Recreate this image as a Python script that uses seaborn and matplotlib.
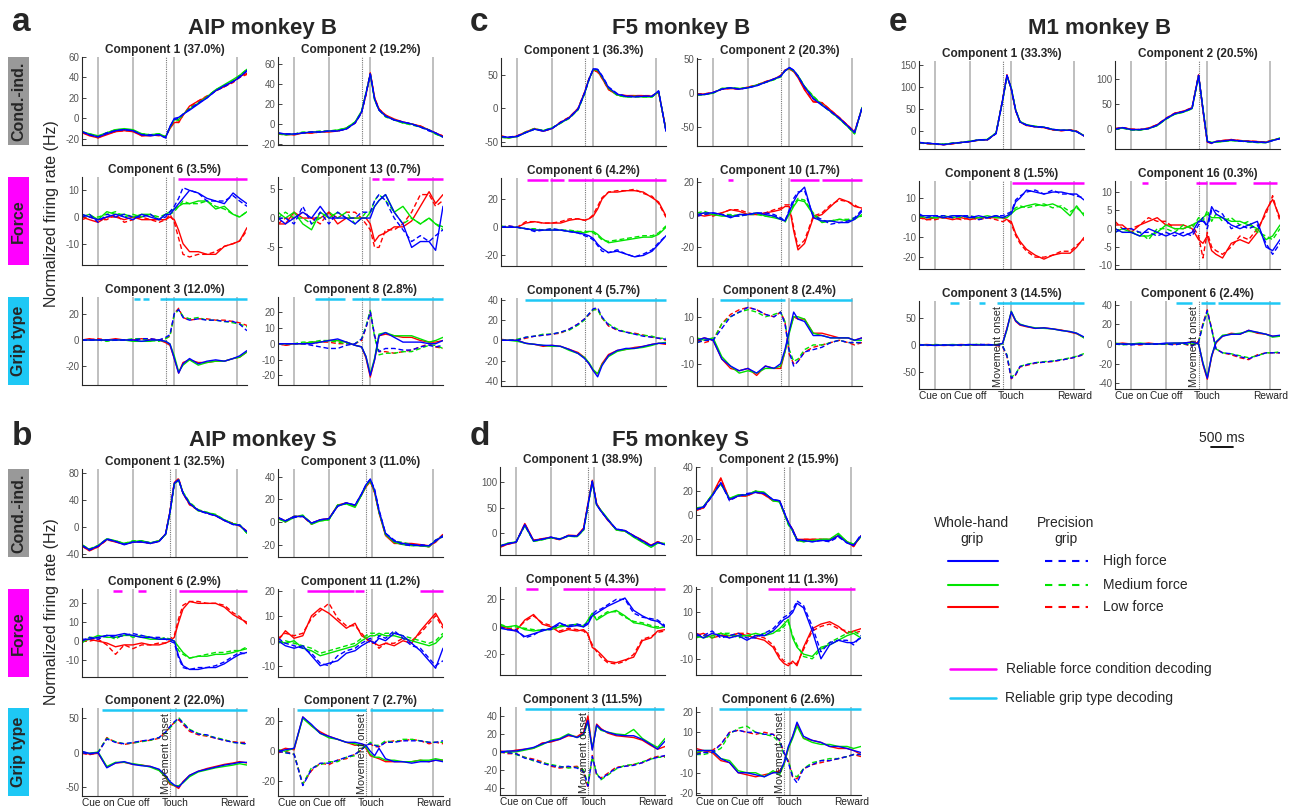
import numpy as np
import pandas as pd
import matplotlib
matplotlib.use("Agg")
import matplotlib.pyplot as plt
from matplotlib.patches import Rectangle
import seaborn as sns

sns.set_theme(context="paper", style="ticks")
plt.rcParams['font.family'] = ['Liberation Sans', 'DejaVu Sans']
plt.rcParams['axes.unicode_minus'] = False

# ---------------------------------------------------------
# Time grid (ms, relative to cue on) and task events
# ---------------------------------------------------------
T = [-370, -200, 0, 200, 400, 600, 800, 1000, 1200, 1400, 1550, 1650, 1750,
     1850, 1950, 2100, 2300, 2500, 2700, 2900, 3100, 3250, 3420]
EVENTS_B = [0, 800, 1550, 1750, 3200]   # cue on, cue off, movement onset, touch, reward
EVENTS_S = [0, 800, 1650, 1780, 3200]
EVENT_LABELS = ['Cue on', 'Cue off', 'Touch', 'Reward']

# rows: whole-hand high/medium/low, precision high/medium/low
FORCES = ['High', 'Medium', 'Low']
GRIPS = ['Whole-hand', 'Precision']

# ---------------- AIP monkey B ----------------
aip_b_comp1 = [
    [-13, -16, -18, -15, -12, -11, -12, -16, -17, -16, -19, -8, 0, 1, 4, 8, 14, 20, 27, 32, 36, 40, 47],
    [-13, -15, -17, -14, -11, -10, -11, -15, -16, -15, -18, -9, -1, -1, 4, 9, 15, 21, 28, 33, 38, 42, 48],
    [-14, -17, -19, -16, -13, -12, -13, -17, -17, -16, -18, -10, -4, -4, 3, 12, 17, 21, 27, 31, 36, 41, 44],
    [-13, -16, -18, -14, -12, -11, -12, -16, -16, -16, -19, -8, -1, 0, 4, 9, 15, 20, 27, 31, 36, 41, 46],
    [-13, -15, -18, -14, -11, -11, -12, -15, -16, -15, -18, -9, -1, -2, 4, 10, 15, 21, 28, 32, 37, 42, 48],
    [-14, -16, -19, -15, -13, -12, -12, -17, -16, -17, -18, -9, -3, -4, 3, 11, 17, 22, 27, 31, 35, 40, 43],
]
aip_b_comp2 = [
    [-9, -10, -10, -9, -8, -8, -7, -7, -5, 1, 12, 30, 50, 25, 14, 8, 4, 2, 0, -3, -6, -9, -13],
    [-9, -11, -10, -9, -8, -8, -7, -6, -4, 2, 13, 31, 49, 24, 14, 8, 4, 1, 0, -3, -6, -10, -13],
    [-10, -10, -11, -9, -9, -8, -8, -7, -4, 1, 12, 29, 51, 26, 15, 9, 5, 2, 0, -2, -6, -9, -12],
    [-9, -10, -10, -9, -8, -8, -7, -7, -5, 1, 11, 30, 50, 25, 14, 8, 4, 2, 0, -3, -7, -9, -13],
    [-10, -10, -10, -8, -8, -7, -7, -6, -4, 2, 12, 31, 50, 24, 14, 7, 4, 1, -1, -3, -6, -10, -13],
    [-10, -11, -10, -9, -9, -8, -7, -7, -5, 1, 12, 29, 51, 26, 15, 9, 4, 2, 0, -2, -6, -9, -12],
]
aip_b_comp6 = [
    [1, 0, -1, 0, 1, 0, -1, 1, 0, -1, 1, 1, 3, 5, 7, 10, 9, 7, 6, 5, 9, 7, 5],
    [0, 1, -1, 2, 1, 1, 0, 1, 1, -1, 1, 2, 3, 4, 5, 5, 6, 6, 3, 4, 1, 0, 2],
    [0, -1, -2, 0, 0, -1, 0, -1, -1, -1, -1, 0, -1, -5, -10, -13, -13, -14, -14, -11, -10, -9, -4],
    [0, 1, -2, 1, 0, 1, 0, 0, 1, -1, 0, 2, 4, 7, 11, 10, 9, 6, 6, 6, 8, 6, 4],
    [1, 0, 0, 1, 2, 0, 1, 0, 1, 0, 1, 1, 2, 4, 6, 5, 5, 6, 4, 3, 1, 0, 2],
    [-1, 0, -1, -1, 1, -2, -1, 0, -1, -2, -1, 1, -2, -8, -14, -15, -14, -14, -13, -11, -10, -9, -5],
]
aip_b_comp13 = [
    [0, -1, 0, 1, 0, 2, 0, 0, 0, -1, 0, 0, 0, 2, 3, 4, 1, -1, -5, -4, -4, -5.5, 2],
    [1, 0, 1, -1, -2, 1, 0, 1, 0, 0, 0, 0, 1, 2, 3, 4, 1, 2, 0, -1, 0, -1, -1.5],
    [-1, -1, 1, 0, 0, 0, 1, -1, 0, 0, 0, 0, -1, -4, -3, -2.5, -1.5, -1.5, -0.5, 2, 4.5, 2.5, 4],
    [0, 0, -1, 2, -1, 1, -1, 1, 0, 0, 1, 1, 1, 3, 4, 3, 0, -2, -4, -3, -4, -3, -2],
    [0, 1, 0, 0, -1, 0, 1, 0, 1, -1, 0, 1, 1, 3, 4, 3, 1, -1, 0, -1, 0, -1, -2],
    [-1, 0, 0, 1, 0, -1, 1, 0, 1, 1, 0, -1, -2, -5, -5, -2, -2, -1, 1, 4, 4, 2, 3],
]
aip_b_comp3 = [
    [0, 0, 0, 0, 0, 0, 0, -1, 0, 0, -1, -3, -14, -25, -18, -14, -18, -16, -15, -16, -14, -12, -8],
    [0, 0, 0, 0, 0, 0, -1, -1, -1, 0, -1, -3, -12, -24, -19, -15, -19, -17, -16, -16, -14, -13, -9],
    [0, 1, 0, 0, 1, 0, 0, 1, 0, 0, -2, -4, -14, -25, -17, -15, -17, -17, -16, -16, -14, -13, -9],
    [0, 0, 0, 0, 0, 0, 0, 1, 1, 0, 2, 4, 20, 23, 17, 15, 16, 15, 15, 14, 14, 12, 7],
    [0, 0, 0, -1, 0, 0, 1, 1, 0, -1, 1, 3, 19, 23, 18, 16, 17, 15, 15, 14, 13, 12, 10],
    [0, 0, 1, 0, 0, 0, 0, 1, 1, 0, 1, 3, 20, 24, 17, 15, 16, 16, 15, 15, 14, 13, 11],
]
aip_b_comp8 = [
    [0, 0, 0, 0, 0, 1, 2, 3, 1, -1, -2, -8, -20, -10, 5, 7, 4, 1, 1, 1, 0, 0, 2],
    [0, 0, 0, 0, 1, 1, 2, 2, 1, -1, -2, -8, -19, -9, 6, 7, 5, 5, 5, 3, 1, 2, 4],
    [0, -1, 0, 0, 1, 1, 2, 2, 1, -1, -2, -9, -21, -10, 5, 6, 5, 4, 4, 2, 1, 1, 2],
    [0, 0, 0, 0, -1, -2, -3, -3, -1, 0, 3, 10, 20, 5, -5, -3, -3, -4, -4, -2, -1, -2, -1],
    [0, 0, 0, 1, 1, 2, 2, 1, 0, 0, 3, 11, 21, 4, -7, -6, -6, -5, -5, -3, -1, -1, -3],
    [0, -1, 0, 0, 0, 1, 1, 0, 0, 0, 2, 10, 20, 5, -5, -5, -6, -5, -4, -2, 0, -2, -3],
]

# ---------------- AIP monkey S ----------------
aip_s_comp1 = [
    [-27, -33, -28, -18, -21, -26, -22, -22, -24, -21, -10, 22, 65, 70, 50, 35, 25, 21, 17, 10, 4, 3, -7],
    [-26, -33, -27, -17, -20, -24, -21, -20, -23, -20, -11, 21, 64, 69, 51, 36, 24, 22, 18, 11, 5, 3, -9],
    [-28, -35, -29, -18, -22, -25, -22, -21, -24, -20, -10, 23, 66, 71, 50, 34, 25, 21, 17, 10, 5, 2, -6],
    [-27, -34, -28, -17, -21, -25, -22, -21, -23, -21, -10, 22, 65, 70, 51, 35, 25, 20, 17, 10, 4, 3, -7],
    [-26, -32, -27, -18, -20, -24, -20, -20, -23, -20, -11, 21, 64, 70, 52, 37, 26, 22, 19, 11, 5, 4, -9],
    [-28, -34, -29, -19, -21, -25, -22, -22, -24, -21, -10, 23, 66, 72, 50, 33, 25, 21, 18, 10, 6, 2, -6],
]
aip_s_comp3 = [
    [4, 1, 5, 5, -1, 2, 3, 14, 17, 15, 25, 33, 38, 28, 10, -10, -17, -19, -20, -21, -21, -17, -12],
    [3, 0, 4, 6, -2, 1, 2, 15, 16, 13, 24, 32, 37, 27, 9, -11, -18, -20, -21, -21, -22, -16, -13],
    [4, 1, 5, 5, -1, 2, 3, 15, 17, 14, 24, 31, 36, 26, 8, -12, -19, -19, -19, -20, -21, -18, -11],
    [4, 1, 4, 5, -1, 2, 3, 14, 17, 15, 25, 33, 38, 29, 11, -10, -16, -20, -21, -20, -21, -16, -13],
    [3, 1, 5, 6, -1, 1, 2, 15, 16, 14, 24, 32, 37, 27, 9, -11, -17, -18, -20, -21, -21, -17, -12],
    [4, 0, 5, 5, -2, 2, 3, 14, 17, 14, 25, 32, 36, 26, 9, -11, -18, -20, -20, -21, -22, -17, -11],
]
aip_s_comp6 = [
    [1, 1, 2, 3, 3, 4, 3, 2, 2, 1, 1, 1, 0, -8, -13, -15, -15, -14, -14, -12, -9, -7, -6],
    [0, 1, 3, 2, 2, 3, 3, 2, 1, 1, 1, 1, 0, -3, -6, -9, -8, -8, -7, -7, -6, -5, -4],
    [0, 1, 0, -1, -3, -2, -2, -1, -2, -2, -1, 0, 2, 10, 17, 21, 20, 20, 20, 18, 14, 12, 10],
    [0, 2, 1, 3, 2, 3, 4, 3, 2, 2, 1, 0, -1, -9, -14, -15, -14, -14, -13, -11, -8, -6, -7],
    [-1, 2, 2, 3, 1, 4, 2, 3, 2, 1, 2, 1, 0, -5, -7, -9, -8, -7, -6, -6, -5, -5, -3],
    [0, 0, 1, -2, -7, -2, -4, -2, -2, -1, -1, 1, 3, 12, 19, 21, 21, 20, 20, 19, 15, 13, 9],
]
aip_s_comp11 = [
    [0, -2, -3, -2, -6, -10, -9, -8, -5, -4, -2, -1, 0, -1, 1, 0, 3, 2, -1, -4, -8, -11, -3],
    [0, -1, 0, -3, -4, -6, -5, -4, -3, -2, 0, 1, 2, 2, 3, 2, 2, 1, 0, -1, -2, -1, 2],
    [0, 4, 1, 2, 10, 13, 11, 8, 5, 7, 2, 1, 0, -1, -2, -1, -2, 0, -1, 4, 8, 11, 6],
    [1, -1, -2, -3, -5, -9, -10, -6, -4, -3, -1, 0, 1, -1, 2, 1, 4, 1, -2, -3, -7, -10, -8],
    [-1, 0, -1, -2, -3, -5, -4, -3, -2, -1, 1, 2, 3, 3, 2, 3, 3, 2, 1, 0, -1, 0, 3],
    [1, 3, 2, 3, 9, 12, 15, 9, 6, 6, 3, 1, -1, -1, -3, -1, -1, 1, 0, 3, 7, 10, 5],
]
aip_s_comp2 = [
    [2, -1, 0, -22, -15, -13, -17, -19, -20, -24, -33, -42, -47, -50, -43, -33, -27, -24, -21, -18, -16, -14, -14],
    [1, -1, 1, -20, -14, -14, -16, -18, -21, -26, -35, -44, -48, -48, -44, -35, -28, -25, -22, -20, -18, -16, -18],
    [0, -2, -1, -21, -15, -14, -17, -18, -20, -25, -36, -46, -48, -52, -42, -33, -27, -23, -20, -17, -15, -13, -15],
    [0, -2, 0, 20, 15, 13, 15, 17, 19, 22, 30, 38, 45, 50, 43, 33, 27, 26, 21, 18, 15, 14, 13],
    [1, -1, 1, 21, 16, 13, 14, 16, 18, 22, 29, 36, 43, 51, 44, 34, 28, 25, 22, 19, 15, 14, 12],
    [-1, -3, 0, 22, 15, 12, 14, 17, 18, 21, 30, 37, 44, 48, 41, 31, 26, 24, 21, 18, 16, 15, 15],
]
aip_s_comp7 = [
    [0, 1, 2, 23, 18, 12, 10, 8, 6, 6, 5, 4, 0, -3, 2, -5, -7, -7, -8, -7, -7, -6, -7],
    [1, 0, 2, 22, 17, 12, 9, 8, 6, 5, 4, 3, -2, -4, -4, -6, -6, -7, -7, -6, -6, -5, -6],
    [0, 2, 1, 23, 17, 13, 10, 8, 6, 4, 5, 2, -3, -4, -5, -7, -7, -7, -7, -6, -7, -6, -6],
    [0, -1, -2, -23, -12, -8, -8, -6, -4, -2, 1, 4, 5, 4, 3, 6, 6, 7, 7, 7, 6, 6, 7],
    [1, -1, -2, -22, -11, -9, -7, -7, -4, -3, 2, 3, 6, 4, 4, 7, 6, 8, 8, 7, 6, 6, 6],
    [-1, 0, -2, -22, -13, -8, -9, -6, -5, -2, 1, 4, 5, 3, 3, 6, 7, 7, 8, 7, 5, 6, 5],
]

# ---------------- F5 monkey B ----------------
f5_b_comp1 = [
    [-42, -43, -42, -36, -31, -34, -30, -21, -14, -1, 23, 43, 59, 58, 48, 31, 21, 18, 17, 18, 18, 26, -34],
    [-43, -44, -42, -36, -31, -33, -29, -22, -14, -2, 22, 43, 58, 57, 47, 30, 20, 17, 18, 17, 17, 25, -33],
    [-41, -44, -41, -35, -30, -34, -30, -21, -13, 0, 24, 44, 57, 55, 45, 28, 20, 19, 19, 19, 18, 24, -32],
    [-42, -43, -41, -36, -31, -33, -30, -21, -14, -1, 23, 43, 59, 58, 49, 32, 22, 18, 18, 18, 18, 26, -34],
    [-43, -44, -42, -35, -30, -33, -29, -22, -15, -2, 22, 42, 58, 57, 47, 30, 19, 17, 17, 17, 17, 25, -33],
    [-41, -43, -41, -35, -30, -34, -30, -20, -13, 0, 24, 44, 57, 54, 45, 28, 21, 19, 19, 19, 19, 24, -32],
]
f5_b_comp2 = [
    [-2, -2, 1, 6, 8, 6, 8, 11, 16, 21, 25, 33, 38, 34, 25, 9, -8, -18, -27, -37, -49, -58, -22],
    [-3, -2, 0, 7, 8, 7, 8, 12, 16, 20, 25, 33, 37, 33, 26, 10, -5, -17, -27, -38, -50, -60, -21],
    [-2, -1, 1, 6, 7, 6, 9, 12, 17, 21, 26, 34, 36, 32, 23, 5, -13, -14, -25, -36, -48, -57, -22],
    [-2, -2, 1, 6, 8, 6, 8, 11, 16, 21, 25, 33, 38, 34, 25, 9, -8, -17, -27, -37, -49, -58, -22],
    [-3, -2, 0, 7, 8, 7, 8, 12, 16, 20, 24, 33, 37, 33, 26, 10, -4, -17, -28, -38, -50, -60, -21],
    [-2, -1, 1, 6, 7, 6, 9, 12, 17, 21, 26, 34, 36, 32, 24, 6, -12, -14, -25, -36, -48, -57, -23],
]
f5_b_comp6 = [
    [0, 0, 0, -1, -2, -2, -2, -2, -3, -4, -5, -6, -8, -12, -15, -18, -17, -19, -21, -20, -17, -12, -6],
    [0, 0, 0, -1, -2, -2, -2, -2, -3, -3, -4, -3, -3, -5, -8, -11, -10, -9, -8, -7, -7, -5, 0],
    [0, 0, 0, 3, 4, 3, 3, 3, 5, 6, 5, 6, 8, 13, 20, 25, 25, 26, 26, 25, 21, 18, 8],
    [0, 1, 0, -1, -3, -2, -1, -2, -3, -4, -6, -7, -9, -13, -17, -18, -16, -19, -21, -19, -16, -11, -6],
    [1, 0, 0, -1, -1, -2, -1, -2, -2, -3, -3, -3, -4, -6, -9, -10, -9, -8, -7, -6, -6, -4, 1],
    [0, 1, 0, 4, 4, 3, 3, 4, 6, 6, 5, 6, 9, 15, 21, 25, 26, 26, 27, 24, 22, 17, 7],
]
f5_b_comp10 = [
    [0, 1, 1, 0, -2, 0, 0, 1, 0, -1, -3, -4, 2, 8, 13, 17, -2, -4, -4, -5, -5, -3, 2],
    [0, 1, 0, -1, -1, 0, 0, 1, -1, -2, -3, -4, 0, 5, 9, 8, 0, -5, -4, -3, -4, -3, 0],
    [0, -1, 0, 1, 3, 2, 0, 0, 1, 2, 3, 5, 5, -10, -22, -18, -2, 0, 5, 10, 8, 5, 4],
    [-1, 0, 1, 0, -1, -1, 0, 1, 1, 0, -2, -4, 3, 10, 14, 15, -1, -3, -6, -5, -4, -2, 3],
    [1, 2, 0, 0, 0, -1, 0, 0, -1, -1, -2, -5, 1, 6, 10, 9, 1, -4, -4, -3, -3, -2, -1],
    [-1, 0, -1, 1, 3, 3, 1, 0, 1, 3, 4, 6, 6, -8, -20, -16, -1, 1, 6, 9, 8, 6, 3],
]
f5_b_comp4 = [
    [0, 0, 0, -3, -4, -5, -5, -6, -9, -13, -18, -23, -30, -36, -25, -15, -10, -8, -8, -6, -4, -3, -3],
    [0, 0, -1, -3, -4, -5, -6, -6, -10, -13, -17, -22, -29, -33, -24, -16, -11, -9, -8, -7, -5, -3, -2],
    [1, 0, 0, -3, -4, -6, -5, -6, -9, -12, -17, -23, -30, -33, -23, -14, -10, -9, -7, -6, -4, -3, -4],
    [0, 0, 0, 3, 4, 5, 6, 8, 11, 16, 21, 26, 31, 32, 23, 15, 10, 8, 6, 4, 3, 2, 1],
    [0, 0, 1, 3, 4, 6, 6, 8, 10, 15, 20, 26, 30, 30, 22, 16, 11, 8, 6, 5, 4, 2, 2],
    [0, 0, 0, 2, 4, 5, 6, 7, 11, 16, 21, 25, 30, 31, 22, 14, 10, 8, 7, 5, 3, 2, 0],
]
f5_b_comp8 = [
    [0, 1, 0, -8, -11, -13, -12, -14, -11, -12, -10, -4, 4, 12, 9, 8, 2, 2, 1, 1, 1, 0, 1],
    [1, 0, 1, -7, -11, -14, -13, -14, -12, -12, -11, -5, 3, 10, 10, 9, 3, 2, 1, 1, 1, 0, 0],
    [0, 1, 0, -8, -12, -13, -12, -15, -11, -12, -12, -5, 4, 10, 9, 9, 3, 3, 2, 1, 1, 0, 1],
    [-1, 0, 0, 5, 10, 12, 14, 13, 11, 10, 12, 7, -5, -11, -9, -5, -4, -3, -1, 0, -1, -1, -1],
    [-1, 0, 0, 7, 10, 12, 13, 12, 10, 11, 12, 8, -4, -9, -8, -4, -2, -2, -1, 0, -1, -1, -1],
    [0, -1, 0, 7, 11, 13, 14, 13, 11, 10, 12, 8, -6, -10, -9, -5, -3, -2, -1, 0, -1, -2, -1],
]

# ---------------- F5 monkey S ----------------
f5_s_comp1 = [
    [-26, -21, -18, 17, -15, -12, -8, -12, -5, -6, 8, 55, 102, 56, 43, 27, 8, 5, -5, -15, -25, -18, -23],
    [-25, -20, -17, 15, -16, -13, -9, -11, -6, -7, 6, 53, 101, 55, 45, 29, 6, 4, -8, -18, -28, -20, -20],
    [-28, -22, -18, 19, -14, -11, -8, -13, -4, -5, 10, 58, 104, 58, 44, 26, 7, 4, -5, -14, -24, -17, -22],
    [-25, -21, -17, 16, -15, -12, -8, -12, -5, -6, 7, 55, 102, 56, 43, 27, 8, 5, -6, -16, -25, -18, -23],
    [-26, -20, -18, 15, -16, -13, -9, -12, -6, -7, 6, 54, 101, 55, 44, 28, 6, 4, -7, -17, -27, -19, -21],
    [-27, -22, -18, 18, -14, -11, -9, -13, -5, -5, 9, 57, 103, 57, 44, 26, 7, 5, -5, -14, -24, -17, -22],
]
f5_s_comp2 = [
    [5, 7, 16, 27, 13, 16, 17, 19, 18, 13, 12, 3, -6, -12, -20, -21, -22, -21, -21, -17, -23, -25, -17],
    [5, 7, 17, 26, 14, 17, 17, 20, 19, 12, 11, 2, -7, -13, -21, -22, -21, -20, -20, -15, -22, -24, -18],
    [4, 6, 17, 31, 13, 16, 16, 20, 17, 12, 12, 2, -6, -12, -20, -20, -20, -20, -20, -17, -22, -26, -17],
    [5, 6, 16, 27, 12, 16, 18, 19, 18, 13, 12, 3, -6, -13, -21, -21, -22, -21, -22, -18, -23, -25, -16],
    [6, 7, 17, 26, 14, 16, 17, 20, 19, 12, 11, 2, -8, -13, -20, -22, -21, -20, -20, -16, -22, -24, -18],
    [4, 6, 16, 30, 13, 16, 16, 19, 17, 12, 12, 2, -6, -12, -21, -20, -20, -20, -21, -17, -22, -26, -17],
]
f5_s_comp5 = [
    [-1, -2, -3, -7, -5, -3, -1, 3, 0, 1, 0, 2, 8, 10, 12, 15, 18, 21, 12, 8, 5, 4, 0],
    [1, 0, 1, -2, -3, -2, -2, 0, 1, 2, 0, 5, 10, 5, 7, 10, 12, 8, 3, 2, 0, -1, 0],
    [0, -1, -3, 5, 9, 2, 0, -4, -2, -3, -2, -5, -15, -17, -20, -25, -26, -24, -22, -10, -8, -3, -2],
    [0, -2, -2, -8, -6, -2, -2, 2, 1, 2, 1, 3, 9, 12, 13, 16, 20, 20, 10, 7, 6, 5, 1],
    [2, 0, 0, -1, -2, -3, -1, 1, 1, 1, 1, 4, 9, 6, 8, 11, 11, 7, 4, 3, 1, 0, 1],
    [1, -1, -2, 4, 8, 3, 1, -3, -1, -2, -3, -6, -13, -18, -22, -26, -27, -25, -20, -9, -7, -4, -3],
]
f5_s_comp11 = [
    [1, -1, 1, 0, -1, 0, -2, 0, 0, 2, 5, 7, 8, 10, 14, 12, 2, -10, -4, -2, -3, -3, -1],
    [0, -1, 0, 1, 0, 0, 0, 1, 0, 1, 3, 5, 7, -1, -5, -8, -9, -5, -4, -2, 0, 1, -1],
    [0, 1, -1, 0, 0, 1, 0, -1, -2, -5, -10, -12, -13, -11, -13, -5, 3, 5, 6, 4, 1, 2, 3],
    [0, 0, 2, -1, 0, 1, -1, -1, 1, 3, 6, 8, 9, 11, 15, 13, 4, -7, -3, -2, -2, -4, 0],
    [-1, 0, -1, 1, 1, -1, 0, 0, 1, 2, 2, 4, 6, 0, -4, -9, -10, -6, -3, -1, 1, 2, 0],
    [1, 0, 0, 1, -1, 1, 1, 0, -1, -4, -9, -11, -12, -12, -12, -6, 2, 4, 5, 3, 2, 1, 2],
]
f5_s_comp3 = [
    [0, 1, 1, 3, 5, 9, 12, 14, 19, 16, 20, 35, 2, 30, 25, 22, 19, 18, 18, 14, 8, 3, 12],
    [-1, 0, 0, 2, 4, 8, 13, 15, 20, 16, 19, 33, 4, 29, 24, 22, 20, 19, 25, 15, 9, 5, 15],
    [1, 0, 2, 3, 4, 10, 11, 14, 18, 17, 22, 40, 3, 31, 26, 21, 18, 17, 16, 13, 7, 3, 6],
    [0, -1, -2, -7, -9, -13, -15, -17, -16, -18, -22, -38, -5, -25, -30, -25, -18, -16, -15, -12, -8, -6, -4],
    [0, 0, -3, -6, -10, -12, -14, -16, -18, -17, -20, -36, -6, -24, -31, -26, -19, -15, -14, -11, -8, -6, -6],
    [0, -2, -2, -6, -8, -11, -16, -18, -17, -16, -21, -40, -4, -26, -29, -24, -17, -16, -14, -12, -7, -5, -5],
]
f5_s_comp6 = [
    [1, 1, 1, -3, -5, -10, -10, -11, -12, -10, -10, -5, 3, 8, 15, 8, 6, 5, 3, 3, 2, 1, 0],
    [0, 1, 1, -3, -4, -9, -10, -10, -12, -9, -11, -6, 2, 7, 13, 7, 5, 4, 4, 3, 3, 2, 3],
    [2, 1, 0, -4, -5, -10, -11, -12, -11, -10, -9, -6, 2, 8, 14, 7, 6, 5, 3, 2, 2, 1, -1],
    [-1, 0, 0, 4, 10, 11, 10, 10, 9, 9, 6, 0, -5, -12, -15, -8, -6, -4, -4, -3, -2, -1, -1],
    [-1, -1, 0, 2, 9, 12, 13, 10, 9, 8, 5, -1, -4, -11, -12, -8, -5, -4, -3, -3, -2, -1, -1],
    [0, 0, 1, 4, 10, 11, 10, 9, 10, 9, 6, 0, -4, -12, -13, -8, -6, -5, -4, -3, -2, -1, -2],
]

# ---------------- M1 monkey B ----------------
m1_b_comp1 = [
    [-27, -29, -30, -32, -29, -27, -25, -21, -21, -6, 70, 127, 96, 47, 20, 13, 9, 8, 3, 1, 1, -2, -12],
    [-27, -29, -30, -31, -29, -27, -24, -21, -20, -5, 68, 125, 98, 48, 21, 14, 10, 8, 3, 1, 1, -2, -11],
    [-28, -29, -31, -32, -30, -27, -25, -22, -21, -6, 71, 128, 95, 46, 20, 12, 9, 7, 2, 0, 2, -1, -12],
    [-27, -28, -30, -32, -29, -27, -25, -21, -21, -7, 69, 127, 97, 47, 20, 13, 9, 8, 3, 1, 1, -2, -12],
    [-27, -29, -30, -31, -28, -27, -24, -22, -20, -5, 70, 126, 97, 48, 21, 13, 10, 8, 3, 1, 1, -2, -11],
    [-28, -30, -31, -32, -30, -27, -25, -21, -21, -6, 71, 128, 95, 46, 20, 12, 9, 7, 2, 0, 2, -1, -12],
]
m1_b_comp2 = [
    [0, 3, -1, -1, 1, 8, 21, 31, 35, 42, 108, 40, -25, -28, -25, -24, -22, -24, -25, -26, -27, -23, -19],
    [0, 2, -1, -2, 1, 7, 20, 30, 34, 41, 106, 42, -24, -27, -26, -25, -23, -24, -25, -27, -27, -23, -18],
    [1, 3, 0, -1, 2, 9, 21, 32, 36, 43, 109, 38, -26, -28, -25, -23, -21, -23, -24, -25, -26, -22, -19],
    [0, 3, -1, -1, 1, 8, 21, 31, 35, 42, 108, 40, -25, -28, -25, -24, -22, -24, -25, -26, -27, -23, -19],
    [0, 2, -2, -2, 1, 7, 20, 30, 34, 41, 107, 41, -24, -27, -26, -25, -23, -24, -26, -27, -27, -22, -18],
    [1, 3, 0, -1, 2, 9, 22, 32, 36, 43, 109, 38, -26, -29, -25, -23, -21, -23, -24, -25, -26, -22, -19],
]
m1_b_comp8 = [
    [1, 1, 1, 0, 1, 1, 0, 1, 0, 1, 0, 1, 2, 8, 10, 14, 13, 12, 13, 13, 12, 12, 9],
    [1, 0, 0, 1, 0, 1, 0, 0, 1, 0, 0, 0, 2, 4, 5, 6, 7, 6, 7, 5, 1, 6, 1],
    [1, -1, 0, 0, -1, 0, -1, 0, 0, 0, 0, -1, -2, -8, -12, -16, -19, -21, -19, -18, -18, -15, -10],
    [2, 0, 1, 1, 0, 1, 1, -1, 0, 1, 1, 2, 3, 9, 11, 13, 14, 12, 14, 12, 12, 11, 10],
    [0, 1, 0, 0, 1, 0, 1, 0, 0, 1, 0, 1, 3, 5, 6, 5, 6, 7, 5, 6, 3, 5, 2],
    [0, -1, -1, 0, 0, -1, 0, -1, 0, -1, -2, -1, -3, -9, -13, -17, -20, -20, -19, -17, -17, -14, -11],
]
m1_b_comp16 = [
    [0, -1, -1, -2, 0, -1, -2, -1, -2, -1, 2, 2, 1, 6, 4, 3, 1, 0, 1, 2, -5, -6, -3],
    [-1, 0, -1, -2, -2, -1, 1, 0, 0, 1, 2, 3, 4, 3, 3, 3, 2, 2, 1, 0, -3, -2, 1],
    [1, 1, -1, 1, 2, 3, 1, 1, 1, 0, -3, -4, -2, -6, -7, -8, -4, -3, -4, -1, 5, 8, 3],
    [-1, 0, 0, -1, -1, -2, -1, -2, -1, -2, 1, 3, 0, 5, 5, 4, 0, 1, 0, 1, -4, -7, -4],
    [0, -1, -1, -1, -3, 0, 0, -1, 1, 0, 3, 2, 5, 2, 4, 2, 3, 1, 2, -1, -2, -3, 0],
    [2, 0, 0, 1, 3, 2, 2, 0, 0, 1, -2, -8, -1, -5, -6, -7, -5, -2, -3, 0, 4, 9, 2],
]
m1_b_comp3 = [
    [0, 0, -1, 0, 0, 0, 1, 0, 0, 0, 3, 30, 62, 45, 38, 35, 31, 32, 30, 27, 25, 22, 15],
    [1, 0, 0, 0, 1, 0, 0, 1, 0, 1, 2, 28, 63, 46, 39, 35, 32, 31, 30, 27, 25, 22, 13],
    [0, 1, 0, -1, 0, 1, 0, 0, 1, 0, 3, 31, 61, 44, 37, 34, 31, 32, 30, 28, 24, 21, 14],
    [0, 0, 0, 0, -1, 0, 0, 1, 1, 0, -2, -20, -62, -55, -40, -37, -33, -32, -30, -28, -25, -22, -17],
    [0, 0, 1, 0, 0, 0, 1, 1, 0, 0, -2, -18, -60, -54, -40, -36, -33, -31, -30, -27, -24, -21, -16],
    [0, -1, 0, 0, 0, -1, 0, 1, 0, -1, -3, -21, -63, -56, -41, -38, -34, -32, -31, -28, -25, -22, -18],
]
m1_b_comp6 = [
    [0, 0, 0, 0, 0, 0, 1, 1, 1, 2, 0, -20, -35, -12, 2, 8, 10, 10, 14, 12, 10, 8, 9],
    [1, 0, 0, 1, 0, 0, 0, 1, 1, 1, 0, -19, -34, -12, 2, 9, 10, 11, 13, 12, 10, 7, 8],
    [0, 1, 0, 0, 1, 0, 0, 0, 1, 2, 1, -21, -36, -13, 1, 8, 11, 10, 14, 11, 10, 8, 8],
    [0, 0, -1, 0, 0, 0, 0, -1, 1, -2, 2, 20, 34, 15, -5, -9, -10, -13, -15, -12, -9, -9, -9],
    [0, -1, 0, 0, 0, 0, 0, 0, 0, -1, 2, 19, 33, 15, -5, -9, -10, -12, -14, -12, -9, -9, -8],
    [0, 0, 0, -1, 0, 0, 0, 0, 0, -2, 3, 21, 35, 16, -5, -9, -11, -14, -16, -11, -9, -9, -9],
]

# ---------------- Reliable decoding intervals (ms) ----------------
aip_b_comp6_bars = [(1830, 3420)]
aip_b_comp13_bars = [(1790, 1950), (2030, 2290), (2600, 3420)]
aip_b_comp3_bars = [(817, 970), (1024, 1177), (1430, 3420)]
aip_b_comp8_bars = [(480, 1160), (1340, 1950), (2000, 3420)]
aip_s_comp6_bars = [(342, 549), (909, 1108), (1866, 3420)]
aip_s_comp11_bars = [(304, 1377), (1395, 1600), (2890, 3420)]
aip_s_comp2_bars = [(90, 3420)]
aip_s_comp7_bars = [(60, 1645), (1745, 3420)]
f5_b_comp6_bars = [(235, 714), (766, 1085), (1176, 3420)]
f5_b_comp10_bars = [(343, 450), (1775, 2425), (2500, 3420)]
f5_b_comp4_bars = [(180, 3420)]
f5_b_comp8_bars = [(150, 1660), (1760, 3180)]
f5_s_comp5_bars = [(227, 510), (1085, 3420)]
f5_s_comp11_bars = [(1280, 3280)]
f5_s_comp3_bars = [(210, 3405)]
f5_s_comp6_bars = [(151, 3420)]
m1_b_comp8_bars = [(1757, 3420)]
m1_b_comp16_bars = [(245, 383), (1490, 1735), (1796, 2408), (2790, 3340)]
m1_b_comp3_bars = [(343, 550), (1017, 1155), (1415, 3420)]
m1_b_comp6_bars = [(1022, 1405), (1597, 1927), (1990, 3420)]

# ---------------------------------------------------------
# Layout (pixels)
# ---------------------------------------------------------
W, H = 1299, 808
AX_W, AX_H = 165, 88
GROUPS = {
    'a': dict(cols=(82, 278), rows=(57, 177, 297), title='AIP monkey B', events=EVENTS_B, labels=False),
    'b': dict(cols=(82, 278), rows=(469, 589, 708), title='AIP monkey S', events=EVENTS_S, labels=True),
    'c': dict(cols=(501, 697), rows=(58, 178, 298), title='F5 monkey B', events=EVENTS_B, labels=False),
    'd': dict(cols=(500, 696), rows=(467, 587, 707), title='F5 monkey S', events=EVENTS_S, labels=True),
    'e': dict(cols=(919, 1115), rows=(61, 181, 301), title='M1 monkey B', events=EVENTS_B, labels=True),
}

PANELS = [
    ('a', 0, 0, 'Component 1 (37.0%)', aip_b_comp1, (-26, 60), [-20, 0, 20, 40, 60], []),
    ('a', 0, 1, 'Component 2 (19.2%)', aip_b_comp2, (-21, 67), [-20, 0, 20, 40, 60], []),
    ('a', 1, 0, 'Component 6 (3.5%)', aip_b_comp6, (-18, 15), [-10, 0, 10], aip_b_comp6_bars),
    ('a', 1, 1, 'Component 13 (0.7%)', aip_b_comp13, (-8, 7), [-5, 0, 5], aip_b_comp13_bars),
    ('a', 2, 0, 'Component 3 (12.0%)', aip_b_comp3, (-34, 32.5), [-20, 0, 20], aip_b_comp3_bars),
    ('a', 2, 1, 'Component 8 (2.8%)', aip_b_comp8, (-26, 29.4), [-20, -10, 0, 10, 20], aip_b_comp8_bars),
    ('b', 0, 0, 'Component 1 (32.5%)', aip_s_comp1, (-44, 86), [-40, 0, 40, 80], []),
    ('b', 0, 1, 'Component 3 (11.0%)', aip_s_comp3, (-31, 47), [-20, 0, 20, 40], []),
    ('b', 1, 0, 'Component 6 (2.9%)', aip_s_comp6, (-19, 27.6), [-10, 0, 10, 20], aip_s_comp6_bars),
    ('b', 1, 1, 'Component 11 (1.2%)', aip_s_comp11, (-14.5, 20.7), [-10, 0, 10, 20], aip_s_comp11_bars),
    ('b', 2, 0, 'Component 2 (22.0%)', aip_s_comp2, (-63, 65), [-50, 0, 50], aip_s_comp2_bars),
    ('b', 2, 1, 'Component 7 (2.7%)', aip_s_comp7, (-30, 29), [-20, 0, 20], aip_s_comp7_bars),
    ('c', 0, 0, 'Component 1 (36.3%)', f5_b_comp1, (-56, 75), [-50, 0, 50], []),
    ('c', 0, 1, 'Component 2 (20.3%)', f5_b_comp2, (-78, 52), [-50, 0, 50], []),
    ('c', 1, 0, 'Component 6 (4.2%)', f5_b_comp6, (-27.5, 35), [-20, 0, 20], f5_b_comp6_bars),
    ('c', 1, 1, 'Component 10 (1.7%)', f5_b_comp10, (-32, 22.7), [-20, 0, 20], f5_b_comp10_bars),
    ('c', 2, 0, 'Component 4 (5.7%)', f5_b_comp4, (-45, 41.6), [-40, -20, 0, 20, 40], f5_b_comp4_bars),
    ('c', 2, 1, 'Component 8 (2.4%)', f5_b_comp8, (-19.5, 18), [-10, 0, 10], f5_b_comp8_bars),
    ('d', 0, 0, 'Component 1 (38.9%)', f5_s_comp1, (-43, 130), [0, 50, 100], []),
    ('d', 0, 1, 'Component 2 (15.9%)', f5_s_comp2, (-33, 40), [-20, 0, 20, 40], []),
    ('d', 1, 0, 'Component 5 (4.3%)', f5_s_comp5, (-35, 29), [-20, 0, 20], f5_s_comp5_bars),
    ('d', 1, 1, 'Component 11 (1.3%)', f5_s_comp11, (-17, 21), [-10, 0, 10, 20], f5_s_comp11_bars),
    ('d', 2, 0, 'Component 3 (11.5%)', f5_s_comp3, (-48, 50), [-40, -20, 0, 20, 40], f5_s_comp3_bars),
    ('d', 2, 1, 'Component 6 (2.6%)', f5_s_comp6, (-21, 22.5), [-20, -10, 0, 10, 20], f5_s_comp6_bars),
    ('e', 0, 0, 'Component 1 (33.3%)', m1_b_comp1, (-42, 160), [0, 50, 100, 150], []),
    ('e', 0, 1, 'Component 2 (20.5%)', m1_b_comp2, (-40, 137), [0, 50, 100], []),
    ('e', 1, 0, 'Component 8 (1.5%)', m1_b_comp8, (-26, 18.6), [-20, -10, 0, 10], m1_b_comp8_bars),
    ('e', 1, 1, 'Component 16 (0.3%)', m1_b_comp16, (-11, 13), [-10, -5, 0, 5, 10], m1_b_comp16_bars),
    ('e', 2, 0, 'Component 3 (14.5%)', m1_b_comp3, (-82, 82), [-50, 0, 50], m1_b_comp3_bars),
    ('e', 2, 1, 'Component 6 (2.4%)', m1_b_comp6, (-46, 44), [-40, -20, 0, 20, 40], m1_b_comp6_bars),
]

PALETTE = {'High': '#0000ff', 'Medium': '#00e400', 'Low': '#ff0000'}
DASHES = {'Whole-hand': '', 'Precision': (3.5, 2)}
MAGENTA = '#ff00ff'
CYAN = '#1ec8f5'
ROW_BOX = [('Cond.-ind.', '#999999'), ('Force', MAGENTA), ('Grip type', CYAN)]


def to_long(rows):
    recs = []
    for i, vals in enumerate(rows):
        assert len(vals) == len(T), (i, len(vals))
        for t, v in zip(T, vals):
            recs.append((t, v, FORCES[i % 3], GRIPS[i // 3]))
    return pd.DataFrame(recs, columns=['t', 'v', 'force', 'grip'])


fig = plt.figure(figsize=(W / 100, H / 100), dpi=100)


def px_axes(x0, y0, w, h):
    return fig.add_axes([x0 / W, 1 - (y0 + h) / H, w / W, h / H])


axes = {}
for grp, r, c, title, rows, ylim, yticks, bars in PANELS:
    g = GROUPS[grp]
    ev = g['events']
    ax = px_axes(g['cols'][c], g['rows'][r], AX_W, AX_H)
    axes[(grp, r, c)] = ax
    for k in (0, 1, 3, 4):
        ax.axvline(ev[k], color='#b4b4b4', lw=1.2, zorder=0)
    ax.axvline(ev[2], color='#777777', lw=0.8, ls=(0, (1, 1)), zorder=0)

    sns.lineplot(data=to_long(rows), x='t', y='v', hue='force', style='grip',
                 hue_order=['Low', 'Medium', 'High'], style_order=GRIPS,
                 palette=PALETTE, dashes=DASHES, estimator=None, errorbar=None,
                 legend=False, linewidth=1.0, ax=ax)

    bar_color = MAGENTA if r == 1 else CYAN
    for s, e in bars:
        ax.plot([s, e], [0.975, 0.975], transform=ax.get_xaxis_transform(),
                color=bar_color, lw=1.8, solid_capstyle='butt', clip_on=False)

    ax.set_xlim(-370, 3420)
    ax.set_ylim(*ylim)
    ax.set_yticks(yticks)
    ax.set_xlabel('')
    ax.set_ylabel('')
    ax.set_title(title, fontsize=8.5, fontweight='bold', pad=3)
    sns.despine(ax=ax)
    for sp in ('left', 'bottom'):
        ax.spines[sp].set_linewidth(0.8)
        ax.spines[sp].set_color('#262626')
    ax.tick_params(axis='y', direction='in', length=3, width=0.6,
                   labelsize=7, labelcolor='#555555', pad=2)
    if r == 2 and g['labels']:
        ax.set_xticks([ev[0], ev[1], ev[3], ev[4]])
        ax.set_xticklabels(EVENT_LABELS, fontsize=7.3, color='#222222')
        ax.tick_params(axis='x', length=0, pad=1.5)
        ax.text(ev[2] + 15, 0.02, 'Movement onset', rotation=90, fontsize=7.8,
                transform=ax.get_xaxis_transform(), ha='right', va='bottom')
    else:
        ax.set_xticks([])

# scale bar (500 ms) under the M1 panels
ax_sb = axes[('e', 2, 1)]
ax_sb.plot([1835, 2335], [-0.66, -0.66], transform=ax_sb.get_xaxis_transform(),
           color='black', lw=1.3, clip_on=False)
ax_sb.text(2085, -0.6, '500 ms', transform=ax_sb.get_xaxis_transform(),
           ha='center', va='baseline', fontsize=10)

# ---------------------------------------------------------
# Figure-level annotations
# ---------------------------------------------------------
ov = fig.add_axes([0, 0, 1, 1], zorder=10)
ov.set_xlim(0, W)
ov.set_ylim(H, 0)
ov.axis('off')

for letter, (x, y) in zip('abcde', [(12, 31), (12, 445), (470, 31), (470, 445), (889, 31)]):
    ov.text(x, y, letter, fontsize=24, fontweight='bold', ha='left', va='baseline')

for grp, g in GROUPS.items():
    cx = (g['cols'][0] + g['cols'][1] + AX_W) / 2
    ty = 34 if g['rows'][0] < 100 else 446
    ov.text(cx, ty, g['title'], fontsize=16, fontweight='bold', ha='center', va='baseline')

for grp, ymid in (('a', 214), ('b', 612)):
    g = GROUPS[grp]
    for (lab, col), y0 in zip(ROW_BOX, g['rows']):
        ov.add_patch(Rectangle((8, y0), 21, AX_H, color=col, lw=0))
        ov.text(18.5, y0 + AX_H / 2, lab, rotation=90, fontsize=11.5, fontweight='bold',
                ha='center', va='center')
    ov.text(52, ymid, 'Normalized firing rate (Hz)', rotation=90, fontsize=11.5,
            ha='center', va='center')

# legend
ov.text(972, 531, 'Whole-hand\ngrip', fontsize=10, ha='center', va='center', linespacing=1.1)
ov.text(1066, 531, 'Precision\ngrip', fontsize=10, ha='center', va='center', linespacing=1.1)
for y, force, lab in zip([561, 585, 607], FORCES, ['High force', 'Medium force', 'Low force']):
    ov.plot([948, 998], [y, y], color=PALETTE[force], lw=1.5)
    ov.plot([1045, 1088], [y, y], color=PALETTE[force], lw=1.5, dashes=(3.5, 3))
    ov.text(1103, y, lab, fontsize=10, ha='left', va='center')
ov.plot([950, 996], [669, 669], color=MAGENTA, lw=1.8)
ov.text(1006, 669, 'Reliable force condition decoding', fontsize=10, ha='left', va='center')
ov.plot([950, 996], [698, 698], color=CYAN, lw=1.8)
ov.text(1005, 698, 'Reliable grip type decoding', fontsize=10, ha='left', va='center')

fig.savefig('out.png', dpi=100)
